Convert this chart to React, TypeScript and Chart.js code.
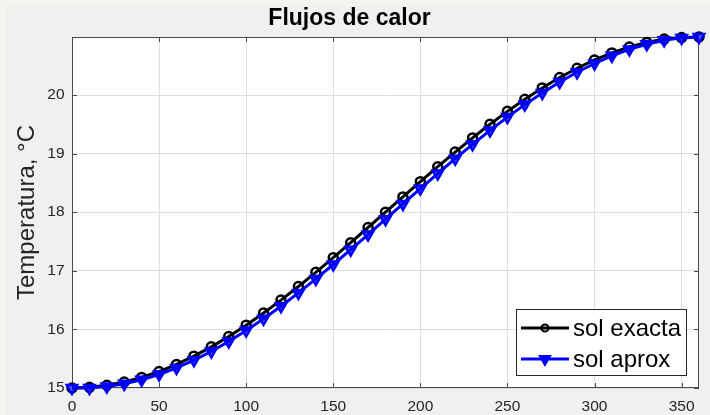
import React, { useEffect, useRef } from "react";
import { Chart, registerables } from "chart.js";

Chart.register(...registerables);

const titleText = "Flujos de calor";
const yAxisLabel = "Temperatura, °C";
const seriesLabels = ["sol exacta", "sol aprox"];

const xValues = [
  0, 10, 20, 30, 40, 50, 60, 70, 80, 90, 100, 110, 120, 130, 140, 150, 160, 170, 180,
  190, 200, 210, 220, 230, 240, 250, 260, 270, 280, 290, 300, 310, 320, 330, 340, 350, 360,
];

const solExacta = [
  15.0, 15.011, 15.046, 15.102, 15.181, 15.281, 15.402, 15.543, 15.702, 15.879, 16.072,
  16.279, 16.5, 16.732, 16.974, 17.224, 17.479, 17.739, 18.0, 18.261, 18.521, 18.776,
  19.026, 19.268, 19.5, 19.721, 19.928, 20.121, 20.298, 20.457, 20.598, 20.719, 20.819,
  20.898, 20.954, 20.98, 20.99,
];

const solAprox = [
  15.0, 15.001, 15.025, 15.071, 15.14, 15.231, 15.342, 15.474, 15.625, 15.794, 15.98,
  16.181, 16.396, 16.623, 16.861, 17.108, 17.361, 17.619, 17.88, 18.141, 18.403, 18.66,
  18.913, 19.159, 19.396, 19.623, 19.836, 20.036, 20.221, 20.388, 20.538, 20.669, 20.778,
  20.867, 20.933, 20.975, 20.99,
];

const xTicks = [0, 50, 100, 150, 200, 250, 300, 350];
const yTicks = [15, 16, 17, 18, 19, 20];
const xRange = [0, 360];
const yRange = [15, 20.99];

const FONT = "'Liberation Sans', Arial, Helvetica, sans-serif";
const AXIS_COLOR = "#262626";
const FRAME_COLOR = "#4a4a4a";
const GRID_COLOR = "#dedede";

const seriesStyles = [
  { color: "#000000", pointStyle: "circle", radius: 4.5, rotation: 0, fill: "rgba(0,0,0,0)" },
  { color: "#0000ff", pointStyle: "triangle", radius: 6, rotation: 180, fill: "rgba(0,0,255,0.6)" },
];

const matlabPlugin = {
  id: "matlabAxes",
  beforeDraw(chart: any) {
    const { ctx, chartArea: a } = chart;
    ctx.save();
    ctx.fillStyle = "#ffffff";
    ctx.fillRect(a.left, a.top, a.right - a.left, a.bottom - a.top);
    ctx.restore();
  },
  beforeDatasetsDraw(chart: any) {
    const { ctx, chartArea: a, scales } = chart;
    ctx.save();
    ctx.strokeStyle = FRAME_COLOR;
    ctx.lineWidth = 1;
    ctx.strokeRect(Math.round(a.left) + 0.5, Math.round(a.top) + 0.5, Math.round(a.right - a.left) - 1, Math.round(a.bottom - a.top) - 1);
    const tl = 5;
    ctx.beginPath();
    xTicks.forEach((v) => {
      const px = Math.round(scales.x.getPixelForValue(v)) + 0.5;
      ctx.moveTo(px, a.bottom);
      ctx.lineTo(px, a.bottom - tl);
      ctx.moveTo(px, a.top);
      ctx.lineTo(px, a.top + tl);
    });
    yTicks.forEach((v) => {
      const py = Math.round(scales.y.getPixelForValue(v)) + 0.5;
      ctx.moveTo(a.left, py);
      ctx.lineTo(a.left + tl, py);
      ctx.moveTo(a.right, py);
      ctx.lineTo(a.right - tl, py);
    });
    ctx.stroke();
    ctx.restore();
  },
  afterDraw(chart: any) {
    const { ctx, chartArea: a } = chart;
    ctx.save();
    ctx.font = `24px ${FONT}`;
    const maxText = Math.max(...seriesLabels.map((t) => ctx.measureText(t).width));
    const padL = 5, lineLen = 48, gap = 4, padR = 5;
    const w = padL + lineLen + gap + maxText + padR;
    const h = 66;
    const right = a.right - 13;
    const bottom = a.bottom - 13;
    const left = right - w;
    const top = bottom - h;
    ctx.fillStyle = "#ffffff";
    ctx.fillRect(left, top, w, h);
    ctx.strokeStyle = AXIS_COLOR;
    ctx.lineWidth = 1;
    ctx.strokeRect(Math.round(left) + 0.5, Math.round(top) + 0.5, Math.round(w), Math.round(h));
    chart.data.datasets.forEach((ds: any, i: number) => {
      const cy = top + 19 + i * 31;
      const st = seriesStyles[i];
      ctx.strokeStyle = st.color;
      ctx.lineWidth = 3;
      ctx.beginPath();
      ctx.moveTo(left + padL, cy);
      ctx.lineTo(left + padL + lineLen, cy);
      ctx.stroke();
      ctx.lineWidth = 2;
      const cx = left + padL + lineLen / 2;
      if (st.pointStyle === "circle") {
        ctx.beginPath();
        ctx.arc(cx, cy, 3.5, 0, Math.PI * 2);
        ctx.stroke();
      } else {
        const r = 6;
        ctx.fillStyle = st.color;
        ctx.beginPath();
        ctx.moveTo(cx, cy + r);
        ctx.lineTo(cx - r * 0.866, cy - r * 0.5);
        ctx.lineTo(cx + r * 0.866, cy - r * 0.5);
        ctx.closePath();
        ctx.fill();
        ctx.stroke();
      }
      ctx.fillStyle = "#000000";
      ctx.textBaseline = "middle";
      ctx.textAlign = "left";
      ctx.fillText(ds.label, left + padL + lineLen + gap, cy + 1);
    });
    ctx.restore();
  },
};

export default function App() {
  const canvasRef = useRef<HTMLCanvasElement | null>(null);

  useEffect(() => {
    document.body.style.margin = "0";
    const canvas = canvasRef.current;
    if (!canvas) return;
    const toPts = (ys: number[]) => xValues.map((x, i) => ({ x, y: ys[i] }));
    const mk = (i: number, ys: number[], order: number) => ({
      label: seriesLabels[i],
      data: toPts(ys),
      borderColor: seriesStyles[i].color,
      borderWidth: 3,
      pointStyle: seriesStyles[i].pointStyle as any,
      pointRadius: seriesStyles[i].radius,
      pointRotation: seriesStyles[i].rotation,
      pointBorderWidth: 2.5,
      pointBorderColor: seriesStyles[i].color,
      pointBackgroundColor: seriesStyles[i].fill,
      fill: false,
      tension: 0,
      order,
      clip: false as any,
    });
    const chart = new Chart(canvas, {
      type: "line",
      data: {
        datasets: [mk(0, solExacta, 1), mk(1, solAprox, 0)],
      },
      options: {
        responsive: false,
        devicePixelRatio: 1,
        animation: false,
        layout: { padding: { left: 0, right: 11, top: 0, bottom: 0 } },
        plugins: {
          legend: { display: false },
          tooltip: { enabled: false },
          title: {
            display: true,
            text: titleText,
            color: "#000000",
            font: { family: FONT, size: 23, weight: "bold", lineHeight: 1.2 },
            padding: { top: 5, bottom: 4.4 },
          },
        },
        scales: {
          x: {
            type: "linear",
            min: xRange[0],
            max: xRange[1],
            afterBuildTicks: (s: any) => {
              s.ticks = xTicks.map((v) => ({ value: v }));
            },
            afterFit: (s: any) => {
              s.height = 27;
            },
            ticks: {
              color: AXIS_COLOR,
              font: { family: FONT, size: 15.5 },
              padding: 9,
              maxRotation: 0,
              autoSkip: false,
            },
            grid: { color: GRID_COLOR, lineWidth: 1, drawTicks: false },
            border: { display: false },
          },
          y: {
            type: "linear",
            min: yRange[0],
            max: yRange[1],
            afterBuildTicks: (s: any) => {
              s.ticks = yTicks.map((v) => ({ value: v }));
            },
            afterFit: (s: any) => {
              s.width = 72;
            },
            ticks: {
              color: AXIS_COLOR,
              font: { family: FONT, size: 15.5 },
              padding: 7.5,
              autoSkip: false,
            },
            grid: { color: GRID_COLOR, lineWidth: 1, drawTicks: false },
            border: { display: false },
            title: {
              display: true,
              text: yAxisLabel,
              color: AXIS_COLOR,
              font: { family: FONT, size: 24, lineHeight: 1.2 },
              padding: { top: 13.3, bottom: 0 },
            },
          },
        },
      },
      plugins: [matlabPlugin],
    });
    return () => chart.destroy();
  }, []);

  return (
    <div style={{ position: "relative", width: 710, height: 415, background: "#f4f5f0", overflow: "hidden" }}>
      <div style={{ position: "absolute", left: 6, top: 6, width: 704, height: 409, background: "#f0f0f0" }} />
      <canvas ref={canvasRef} width={710} height={415} style={{ position: "absolute", left: 0, top: 0 }} />
    </div>
  );
}
